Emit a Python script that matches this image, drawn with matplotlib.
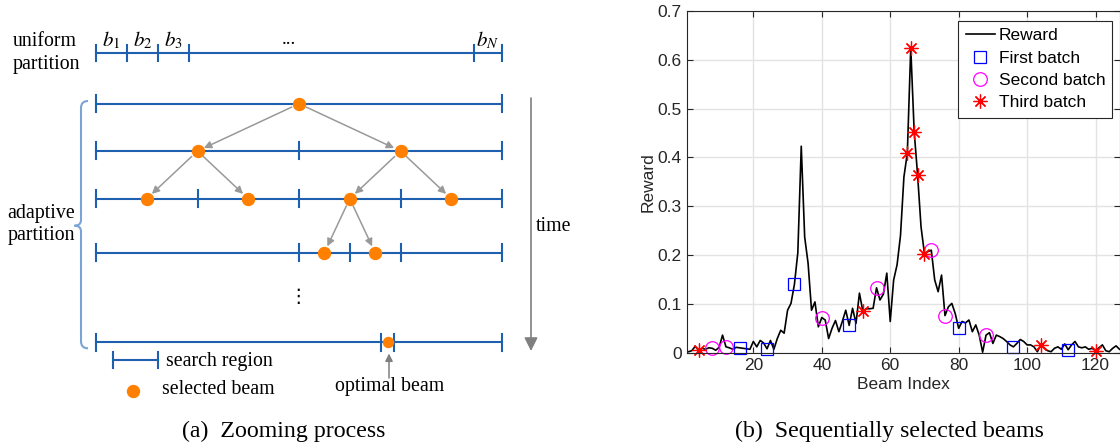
import matplotlib.pyplot as plt
import numpy as np
from matplotlib.path import Path
from matplotlib.patches import PathPatch

# ---- right panel: reward per beam ----
beam_index = np.arange(1, 129)
reward = np.array([
    0.002, 0.004, 0.013, 0.005, 0.009, 0.007, 0.010, 0.009, 0.005, 0.011,
    0.036, 0.012, 0.010, 0.007, 0.011, 0.010, 0.009, 0.008, 0.007, 0.023,
    0.012, 0.025, 0.020, 0.008, 0.025, 0.007, 0.029, 0.046, 0.040, 0.087,
    0.101, 0.140, 0.205, 0.423, 0.237, 0.183, 0.087, 0.104, 0.053, 0.072,
    0.067, 0.029, 0.050, 0.066, 0.043, 0.064, 0.087, 0.056, 0.091, 0.060,
    0.122, 0.085, 0.090, 0.090, 0.091, 0.133, 0.108, 0.120, 0.163, 0.064,
    0.149, 0.180, 0.240, 0.360, 0.409, 0.625, 0.453, 0.364, 0.258, 0.203,
    0.207, 0.210, 0.149, 0.125, 0.159, 0.076, 0.094, 0.101, 0.080, 0.050,
    0.064, 0.061, 0.067, 0.043, 0.057, 0.036, 0.001, 0.036, 0.041, 0.019,
    0.036, 0.033, 0.029, 0.023, 0.016, 0.012, 0.019, 0.027, 0.023, 0.016,
    0.016, 0.012, 0.002, 0.016, 0.010, 0.004, 0.002, 0.009, 0.012, 0.007,
    0.018, 0.006, 0.016, 0.023, 0.012, 0.010, 0.012, 0.007, 0.009, 0.004,
    0.010, 0.016, 0.004, 0.002, 0.009, 0.014, 0.007, 0.004])
first_batch = np.array([16, 24, 32, 48, 80, 96, 112])
second_batch = np.array([8, 12, 40, 56, 72, 76, 88])
third_batch = np.array([4, 52, 65, 66, 67, 68, 70, 104, 120])
x_ticks = [20, 40, 60, 80, 100, 120]
y_ticks = [0, 0.1, 0.2, 0.3, 0.4, 0.5, 0.6, 0.7]
y_tick_labels = ['0', '0.1', '0.2', '0.3', '0.4', '0.5', '0.6', '0.7']

# ---- left panel: zooming diagram (positions as fractions of the beam range) ----
uniform_ticks = [0, 0.0764, 0.152, 0.229, 0.931, 1]
uniform_labels = [r'$b_1$', r'$b_2$', r'$b_3$', r'$b_N$']
level_ticks = [[0, 1], [0, 0.5, 1], [0, 0.25, 0.5, 0.75, 1], [0, 0.5, 0.625, 0.75, 1]]
level_beams = [[0.5], [0.25, 0.75], [0.125, 0.375, 0.625, 0.875], [0.5625, 0.6875]]
# (level, beam) -> children on the next level
children = {(0, 0): [0, 1], (1, 0): [0, 1], (1, 1): [2, 3], (2, 2): [0, 1]}
last_ticks = [0, 0.702, 0.735, 1]
last_beam = 0.718

BLUE = '#1f5fb0'
ORANGE = '#ff8000'
GRAY = '#999999'
SERIF = ['Liberation Serif', 'DejaVu Serif']
plt.rcParams['mathtext.fontset'] = 'stix'

fig = plt.figure(figsize=(11.2, 4.44), dpi=100)
ax0 = fig.add_axes([0, 0, 1, 1])
ax0.set_xlim(0, 1120)
ax0.set_ylim(444, 0)
ax0.axis('off')

x0, x1 = 96, 502
def px(f):
    return x0 + f * (x1 - x0)

def partition(ticks, y, half=8.5):
    ax0.plot([px(0), px(1)], [y, y], color=BLUE, lw=1.5)
    for t in ticks:
        ax0.plot([px(t), px(t)], [y - half, y + half], color=BLUE, lw=1.5)

# uniform partition
uy = 52.7
partition(uniform_ticks, uy, 8)
centers = [(px(uniform_ticks[i]) + px(uniform_ticks[i + 1])) / 2 for i in range(3)]
centers.append((px(uniform_ticks[4]) + px(uniform_ticks[5])) / 2)
for c, lab in zip(centers, uniform_labels):
    ax0.text(c, 40, lab, fontsize=15, ha='center', va='center')
ax0.text(289, 39, '...', fontsize=14, ha='center', va='center', family=SERIF)
ax0.text(13, 42, 'uniform', fontsize=14.3, va='center', family=SERIF)
ax0.text(13, 64, 'partition', fontsize=14.3, va='center', family=SERIF)

# adaptive partition levels
level_y = [103.7, 151, 198.7, 252.7]
for ticks, beams, y in zip(level_ticks, level_beams, level_y):
    partition(ticks, y)
    ax0.plot([px(b) for b in beams], [y] * len(beams), 'o', color=ORANGE, ms=8.6, zorder=4)

for (lvl, b), kids in children.items():
    sx, sy = px(level_beams[lvl][b]), level_y[lvl]
    for k in kids:
        tx, ty = px(level_beams[lvl + 1][k]), level_y[lvl + 1]
        d = np.hypot(tx - sx, ty - sy)
        ux, uy_ = (tx - sx) / d, (ty - sy) / d
        ax0.annotate('', xy=(tx - 7 * ux, ty - 7 * uy_), xytext=(sx + 8 * ux, sy + 8 * uy_),
                     arrowprops=dict(arrowstyle='-|>', color=GRAY, lw=1.1,
                                     mutation_scale=11, shrinkA=0, shrinkB=0))

ax0.text(297.7, 296, '\u22ee', fontsize=14, ha='center', va='center', family=['DejaVu Sans'])

last_y = 342.3
partition(last_ticks, last_y)
ax0.plot(px(last_beam), last_y, 'o', color=ORANGE, ms=7.2, zorder=4)

# brace for the adaptive levels
brace = Path([(88, 101), (81, 101), (81, 108), (81, 220), (81, 225.7), (74.5, 225.7),
              (81, 225.7), (81, 231.5), (81, 341.3), (81, 348.3), (88, 348.3)],
             [Path.MOVETO, Path.CURVE3, Path.CURVE3, Path.LINETO, Path.CURVE3, Path.CURVE3,
              Path.CURVE3, Path.CURVE3, Path.LINETO, Path.CURVE3, Path.CURVE3])
ax0.add_patch(PathPatch(brace, fill=False, edgecolor='#7ba4d6', lw=1.5))
ax0.text(7, 213.3, 'adaptive', fontsize=14.3, va='center', family=SERIF)
ax0.text(8, 235.7, 'partition', fontsize=14.3, va='center', family=SERIF)

# time axis
ax0.annotate('', xy=(531, 351), xytext=(531, 98),
             arrowprops=dict(arrowstyle='-|>', color='#7f7f7f', lw=1.2,
                             mutation_scale=20, shrinkA=0, shrinkB=0))
ax0.text(535.5, 226.7, 'time', fontsize=14.3, va='center', family=SERIF)

# key
ax0.plot([112.7, 157.7], [360, 360], color=BLUE, lw=1.5)
for xx in (112.7, 157.7):
    ax0.plot([xx, xx], [352, 368], color=BLUE, lw=1.5)
ax0.text(165.5, 361.5, 'search region', fontsize=14.3, va='center', family=SERIF)
ax0.plot(132.7, 391, 'o', color=ORANGE, ms=8.6)
ax0.text(162.3, 389.3, 'selected beam', fontsize=14.3, va='center', family=SERIF)
ax0.annotate('', xy=(389, 353.5), xytext=(389, 378),
             arrowprops=dict(arrowstyle='-|>', color='#7f7f7f', lw=1.1,
                             mutation_scale=11, shrinkA=0, shrinkB=0))
ax0.text(390, 386.7, 'optimal beam', fontsize=14.3, ha='center', va='center', family=SERIF)

ax0.text(283.3, 431, '(a)  Zooming process', fontsize=17.2, ha='center', va='center', family=SERIF)
ax0.text(889.7, 431, '(b)  Sequentially selected beams', fontsize=17.2, ha='center',
         va='center', family=SERIF)

# ---- reward plot ----
SANS = ['Liberation Sans', 'DejaVu Sans']
AXC = '#262626'
ax = fig.add_axes([687.3 / 1120, (444 - 352.7) / 444, 432.2 / 1120, 341.7 / 444])
ax.plot(beam_index, reward, color='k', lw=1.2, label='Reward')
ax.plot(first_batch, reward[first_batch - 1], 's', mfc='none', mec='#0000ff', ms=8.6,
        mew=0.9, clip_on=False, label='First batch')
ax.plot(second_batch, reward[second_batch - 1], 'o', mfc='none', mec='#ff00ff', ms=9.8,
        mew=0.9, clip_on=False, label='Second batch')
ax.plot(third_batch, reward[third_batch - 1], ls='none', marker=(8, 2, 0), color='#ff0000',
        ms=10, mew=0.9, clip_on=False, label='Third batch')
ax.set_xlim(0.7, 127)
ax.set_ylim(0, 0.7)
ax.set_xticks(x_ticks)
ax.set_yticks(y_ticks)
ax.set_yticklabels(y_tick_labels)
ax.grid(color='#e3e3e3', lw=1)
ax.set_axisbelow(True)
ax.tick_params(direction='in', top=True, right=True, length=4, width=0.8, color=AXC,
               labelsize=12.5, labelcolor=AXC, pad=4)
for lab in ax.get_xticklabels() + ax.get_yticklabels():
    lab.set_family(SANS)
for s in ax.spines.values():
    s.set_color(AXC)
    s.set_linewidth(0.8)
ax.set_xlabel('Beam Index', fontsize=12.5, color=AXC, family=SANS, labelpad=3)
ax.set_ylabel('Reward', fontsize=12.5, color=AXC, family=SANS, labelpad=1)
leg = ax.legend(loc='upper left', bbox_to_anchor=(958.3 / 1120, 1 - 20.7 / 444),
                bbox_transform=fig.transFigure, fancybox=False, edgecolor=AXC,
                framealpha=1, borderpad=0.42, labelspacing=0.42, handlelength=1.7,
                handletextpad=0.2, borderaxespad=0, prop={'family': SANS, 'size': 12.5})
leg.get_frame().set_linewidth(0.8)
for t in leg.get_texts():
    t.set_color('k')

fig.savefig('out.png', dpi=100)
